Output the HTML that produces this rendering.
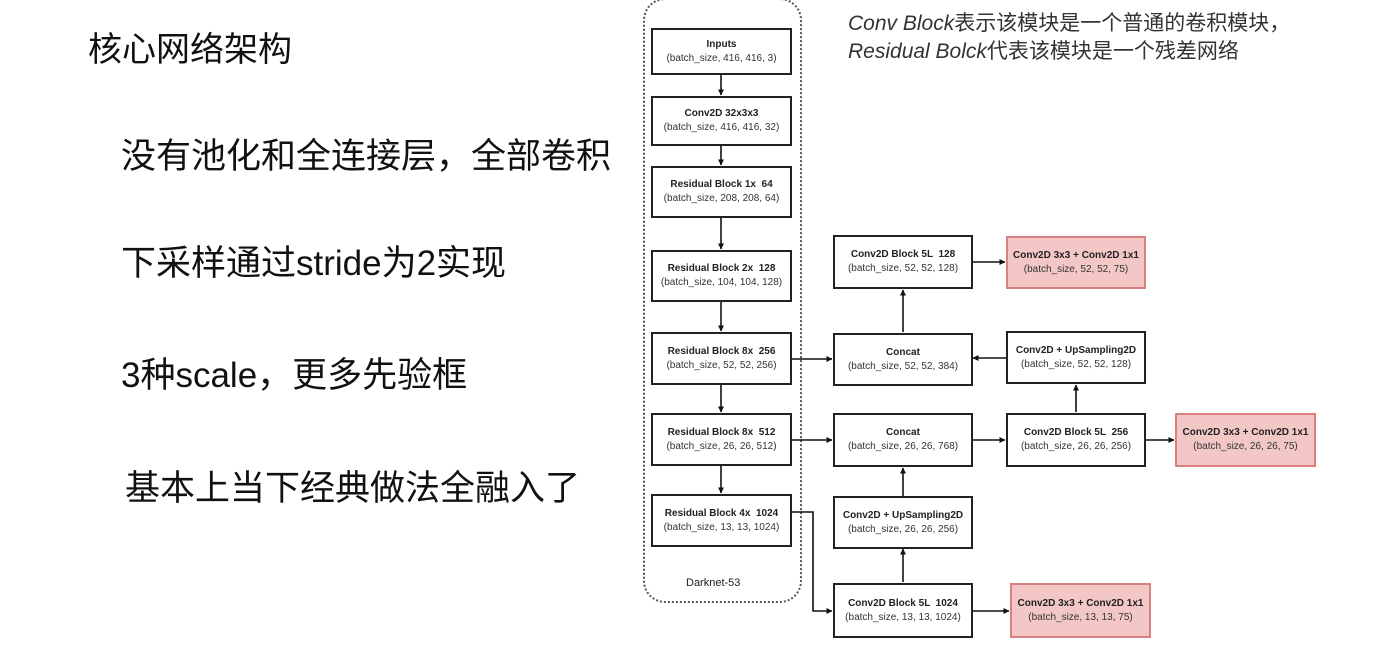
<!DOCTYPE html>
<html><head><meta charset="utf-8"><style>
body{margin:0;width:1384px;height:649px;background:#fff;position:relative;overflow:hidden;font-family:"Liberation Sans","Noto Sans CJK SC",sans-serif}
.t{position:absolute;color:#111;white-space:nowrap}
.b{position:absolute;border:2px solid #222;background:#fff;box-sizing:border-box;text-align:center;font-size:10px;color:#333;display:flex;flex-direction:column;justify-content:center;line-height:14px}
.b b{color:#222}
.r{background:#f4c7c7;border-color:#d98080}
</style></head><body>
<div class="t" style="left:88px;top:22px;font-size:34px">核心网络架构</div>
<div class="t" style="left:121px;top:128px;font-size:35px">没有池化和全连接层，全部卷积</div>
<div class="t" style="left:121px;top:235px;font-size:35px">下采样通过stride为2实现</div>
<div class="t" style="left:121px;top:347px;font-size:35px">3种scale，更多先验框</div>
<div class="t" style="left:125px;top:460px;font-size:35px">基本上当下经典做法全融入了</div>
<div class="t" style="left:848px;top:10px;font-size:21px;line-height:28px;color:#333;white-space:normal;width:455px"><i>Conv Block</i>表示该模块是一个普通的卷积模块，<i>Residual Bolck</i>代表该模块是一个残差网络</div>
<div style="position:absolute;left:643px;top:-2px;width:159px;height:605px;border:2px dotted #555;border-radius:22px;box-sizing:border-box"></div>
<div class="t" style="left:686px;top:577px;font-size:11px;color:#222">Darknet-53</div>
<svg style="position:absolute;left:0;top:0" width="1384" height="649">
<defs><marker id="a" markerWidth="6" markerHeight="6" refX="5.5" refY="3" orient="auto" markerUnits="userSpaceOnUse"><path d="M0,0L6,3L0,6z" fill="#111"/></marker></defs>
<g stroke="#111" stroke-width="1.6" fill="none" marker-end="url(#a)">
<line x1="721" y1="75" x2="721" y2="95"/>
<line x1="721" y1="146" x2="721" y2="165"/>
<line x1="721" y1="218" x2="721" y2="249"/>
<line x1="721" y1="302" x2="721" y2="331"/>
<line x1="721" y1="385" x2="721" y2="412"/>
<line x1="721" y1="466" x2="721" y2="493"/>
<line x1="792" y1="359" x2="832" y2="359"/>
<line x1="792" y1="440" x2="832" y2="440"/>
<polyline points="792,512 813,512 813,611 832,611"/>
<line x1="903" y1="332" x2="903" y2="290"/>
<line x1="972" y1="262" x2="1005" y2="262"/>
<line x1="1006" y1="358" x2="973" y2="358"/>
<line x1="1076" y1="412" x2="1076" y2="385"/>
<line x1="972" y1="440" x2="1005" y2="440"/>
<line x1="1146" y1="440" x2="1174" y2="440"/>
<line x1="903" y1="496" x2="903" y2="468"/>
<line x1="903" y1="582" x2="903" y2="549"/>
<line x1="972" y1="611" x2="1009" y2="611"/>
</g></svg>
<div class="b" style="left:651px;top:28px;width:141px;height:47px"><b>Inputs</b>(batch_size, 416, 416, 3)</div>
<div class="b" style="left:651px;top:96px;width:141px;height:50px"><b>Conv2D 32x3x3</b>(batch_size, 416, 416, 32)</div>
<div class="b" style="left:651px;top:166px;width:141px;height:52px"><b>Residual Block 1x &nbsp;64</b>(batch_size, 208, 208, 64)</div>
<div class="b" style="left:651px;top:250px;width:141px;height:52px"><b>Residual Block 2x &nbsp;128</b>(batch_size, 104, 104, 128)</div>
<div class="b" style="left:651px;top:332px;width:141px;height:53px"><b>Residual Block 8x &nbsp;256</b>(batch_size, 52, 52, 256)</div>
<div class="b" style="left:651px;top:413px;width:141px;height:53px"><b>Residual Block 8x &nbsp;512</b>(batch_size, 26, 26, 512)</div>
<div class="b" style="left:651px;top:494px;width:141px;height:53px"><b>Residual Block 4x &nbsp;1024</b>(batch_size, 13, 13, 1024)</div>
<div class="b" style="left:833px;top:235px;width:140px;height:54px"><b>Conv2D Block 5L &nbsp;128</b>(batch_size, 52, 52, 128)</div>
<div class="b" style="left:833px;top:333px;width:140px;height:53px"><b>Concat</b>(batch_size, 52, 52, 384)</div>
<div class="b" style="left:833px;top:413px;width:140px;height:54px"><b>Concat</b>(batch_size, 26, 26, 768)</div>
<div class="b" style="left:833px;top:496px;width:140px;height:53px"><b>Conv2D + UpSampling2D</b>(batch_size, 26, 26, 256)</div>
<div class="b" style="left:833px;top:583px;width:140px;height:55px"><b>Conv2D Block 5L &nbsp;1024</b>(batch_size, 13, 13, 1024)</div>
<div class="b r" style="left:1006px;top:236px;width:140px;height:53px"><b>Conv2D 3x3 + Conv2D 1x1</b>(batch_size, 52, 52, 75)</div>
<div class="b" style="left:1006px;top:331px;width:140px;height:53px"><b>Conv2D + UpSampling2D</b>(batch_size, 52, 52, 128)</div>
<div class="b" style="left:1006px;top:413px;width:140px;height:54px"><b>Conv2D Block 5L &nbsp;256</b>(batch_size, 26, 26, 256)</div>
<div class="b r" style="left:1175px;top:413px;width:141px;height:54px"><b>Conv2D 3x3 + Conv2D 1x1</b>(batch_size, 26, 26, 75)</div>
<div class="b r" style="left:1010px;top:583px;width:141px;height:55px"><b>Conv2D 3x3 + Conv2D 1x1</b>(batch_size, 13, 13, 75)</div>
</body></html>
